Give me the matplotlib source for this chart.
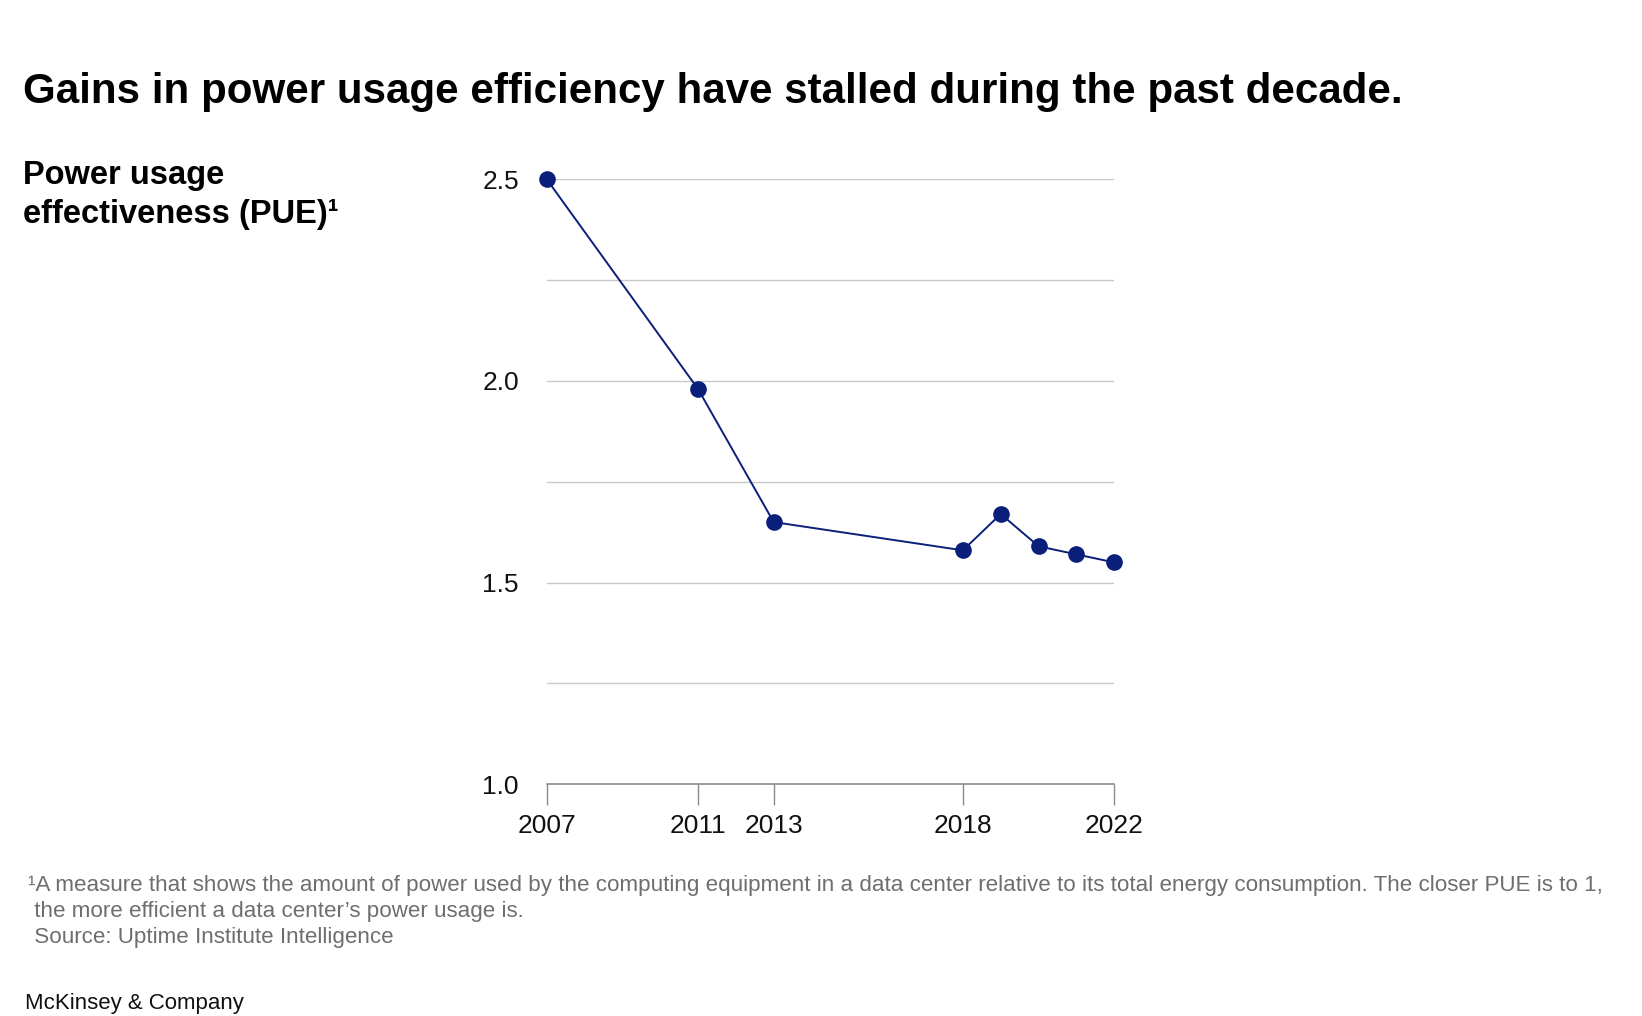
import matplotlib
matplotlib.use('Agg')
import matplotlib.pyplot as plt

years = [2007, 2011, 2013, 2018, 2019, 2020, 2021, 2022]
pue = [2.50, 1.98, 1.65, 1.58, 1.67, 1.59, 1.57, 1.55]
xtick_years = [2007, 2011, 2013, 2018, 2022]
ytick_vals = [1.0, 1.5, 2.0, 2.5]
grid_vals = [1.25, 1.5, 1.75, 2.0, 2.25, 2.5]

title = 'Gains in power usage efficiency have stalled during the past decade.'
ylabel = 'Power usage\neffectiveness (PUE)\u00b9'
footnote = ('\u00b9A measure that shows the amount of power used by the computing equipment in a data center '
            'relative to its total energy consumption. The closer PUE is to 1,\n'
            ' the more efficient a data center\u2019s power usage is.\n'
            ' Source: Uptime Institute Intelligence')


def main():
    plt.rcParams['font.family'] = ['Liberation Sans', 'DejaVu Sans']
    navy = '#0a1f7a'

    fig = plt.figure(figsize=(16.42, 10.16), dpi=100)
    ax = fig.add_axes([0.3329, 0.2280, 0.3457, 0.5957])

    for g in grid_vals:
        ax.axhline(g, color='#c8c8c8', lw=1.0, zorder=1)

    ax.plot(years, pue, color=navy, lw=1.4, marker='o', markersize=12,
            markeredgewidth=0, clip_on=False, zorder=3)

    ax.set_xlim(2007, 2022)
    ax.set_ylim(1.0, 2.5)
    ax.set_xticks(xtick_years)
    ax.set_xticklabels([str(y) for y in xtick_years])
    ax.set_yticks(ytick_vals)
    ax.set_yticklabels(['%.1f' % v for v in ytick_vals])

    for s in ['top', 'right', 'left']:
        ax.spines[s].set_visible(False)
    ax.spines['bottom'].set_color('#8a8a8a')
    ax.spines['bottom'].set_linewidth(1.2)

    ax.tick_params(axis='x', length=15, width=1.0, color='#8a8a8a', pad=6,
                   labelsize=19, labelcolor='#111111')
    ax.tick_params(axis='y', length=0, pad=20, labelsize=19, labelcolor='#111111')

    fig.text(0.014, 0.909, title, fontsize=30.3, fontweight='bold', va='center', ha='left')
    fig.text(0.014, 0.808, ylabel, fontsize=23.5, fontweight='bold', va='center', ha='left',
             linespacing=1.3)
    fig.text(0.017, 0.103, footnote, fontsize=16.1, color='#6e6e6e', va='center', ha='left',
             linespacing=1.33)
    # footer right at the bottom edge
    fig.text(0.015, 0.002, 'McKinsey & Company', fontsize=16, color='#111111',
             va='bottom', ha='left')

    fig.savefig('out.png', dpi=100)


if __name__ == '__main__':
    main()
